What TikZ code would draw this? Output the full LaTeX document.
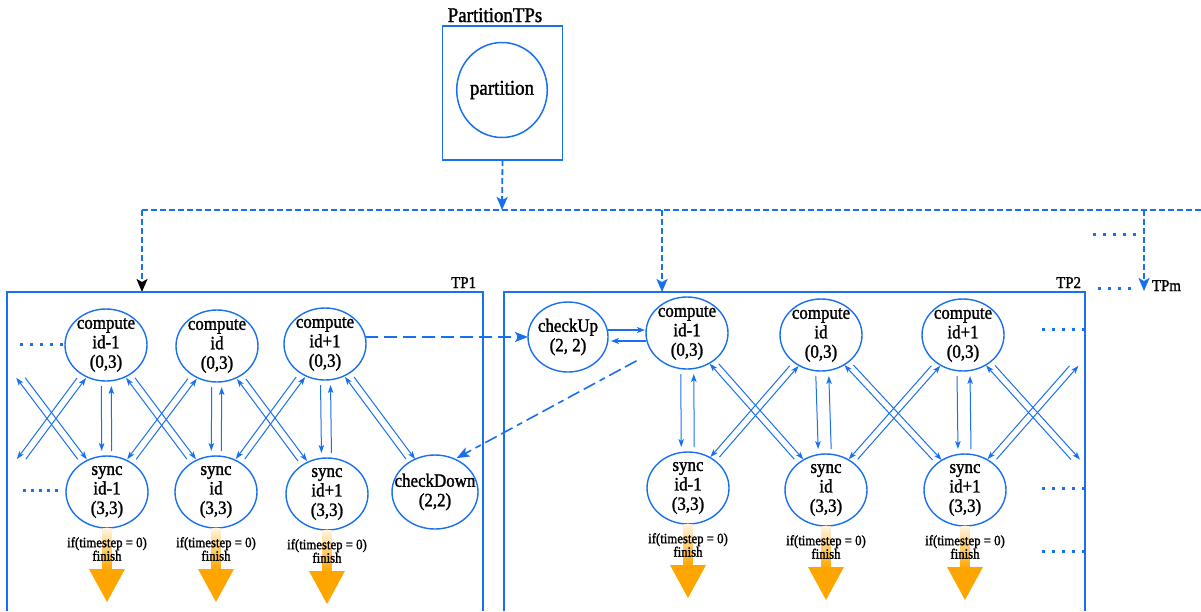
\documentclass[tikz,border=0pt]{standalone}
\usepackage{fontspec}
\setmainfont{Liberation Serif}[FakeStretch=0.9,FakeBold=1.5]
\usetikzlibrary{arrows.meta,calc,shapes.geometric}
\definecolor{tpblue}{RGB}{24,112,240}
\definecolor{finorange}{RGB}{255,165,0}

% an elliptic task node with a centred multi-line caption
\newcommand\tasknode[5][task]{\node[#1,label={[tasktext]center:{#5}}] (#2) at (#3,#4) {};}
% a pair of opposite links between two tasks, each shifted sideways
\newcommand\xpair[4]{%
  \draw[link] ([xshift=#3]#1.center) -- ([xshift=#3]#2.center);
  \draw[link] ([xshift=#4]#2.center) -- ([xshift=#4]#1.center);}
% the orange termination arrow under a sync task
\newcommand\finishmark[1]{%
  \shade[top color=finorange!12, bottom color=finorange]
    ([xshift=-4.5pt]#1.south) rectangle ([xshift=4.5pt,yshift=-42pt]#1.south);
  \fill[finorange] ([xshift=-18pt,yshift=-41pt]#1.south) -- ([xshift=18pt,yshift=-41pt]#1.south)
    -- ([yshift=-74pt]#1.south) -- cycle;
  \node[fintext] at ([yshift=-21pt]#1.south) {if(timestep = 0)\\finish};}

\begin{document}
\begin{tikzpicture}[x=1pt,y=-1pt,
  every node/.style={inner sep=0pt,outer sep=0pt},
  task/.style={ellipse,draw=tpblue,line width=1.4pt,minimum width=82pt,minimum height=72pt},
  checkbig/.style={task,minimum width=86pt,minimum height=74pt},
  checksmall/.style={task,minimum width=80pt,minimum height=70pt},
  tasktext/.style={align=center,font=\fontsize{18.8}{19.5}\selectfont},
  fintext/.style={align=center,font=\fontsize{14.2}{13.5}\selectfont},
  tplabel/.style={font=\fontsize{16.5}{16}\selectfont},
  link/.style={draw=tpblue,line width=1pt,-{Stealth[length=8pt,width=5.5pt,inset=2pt]},
    shorten <=41pt,shorten >=41pt},
  sidelink/.style={draw=tpblue,line width=1.2pt,-{Stealth[length=8pt,width=6pt,inset=2pt]}},
  xlink/.style={draw=tpblue,line width=1.8pt,dash pattern=on 13pt off 6pt,
    -{Stealth[length=13pt,width=10pt,inset=3pt]}},
  feed/.style={draw=tpblue,line width=1.8pt,dash pattern=on 6pt off 3pt},
  feedtip/.style={-{Stealth[length=13pt,width=11pt,inset=3pt]}},
  dotrow/.style={draw=tpblue,line width=3pt,dash pattern=on 3pt off 7pt},
  dotrowtight/.style={draw=tpblue,line width=3pt,dash pattern=on 3pt off 5pt},
  frame/.style={draw=tpblue,line width=1.5pt}
]
\useasboundingbox (0,0) rectangle (1201,611);

% ---------- partitioning stage ----------
\node[frame,minimum width=120pt,minimum height=134pt] (ptp) at (502.5,93) {};
\node[anchor=base,font=\fontsize{21}{21}\selectfont] (ptpl) at (495,22) {PartitionTPs};
\node[ellipse,draw=tpblue,line width=1.5pt,minimum width=90pt,minimum height=95pt,
      font=\fontsize{21}{21}\selectfont] (part) at (502,90) {partition};

\coordinate (j0) at (502,210);
\coordinate (hl) at (142,210);
\coordinate (hr) at (1201,210);
\coordinate (d2) at (662,210);
\coordinate (d3) at (1144,210);
\coordinate (tp1nw) at (7,292);
\coordinate (tp1ne) at (483,292);
\coordinate (tp2nw) at (504,292);
\coordinate (tp2ne) at (1085,292);
\coordinate (tpm) at (1144,291);

\draw[feed,feedtip] (ptp.south) -- (j0);
\draw[feed] (hl) -- (hr);
\draw[feed,-{Stealth[length=13pt,width=11pt,inset=3pt,black]}] (hl) -- (hl |- tp1nw);
\draw[feed,feedtip] (d2) -- (d2 |- tp2nw);
\draw[feed,feedtip] (d3) -- (tpm);

% ---------- partition frames ----------
\draw[frame] (7,611) -- (tp1nw) -- (tp1ne) -- (483,611);
\draw[frame] (504,611) -- (tp2nw) -- (tp2ne) -- (1085,611);
\node[tplabel,anchor=base east] (l1) at (476,288) {TP1};
\node[tplabel,anchor=base east] (l2) at (1081,288) {TP2};
\node[tplabel,anchor=base west] (lm) at (1152,291) {TPm};

\draw[dotrow] (1093,234) -- (1136,234);
\draw[dotrow] (1098,288) -- (1138,288);

% ---------- TP1 ----------
\tasknode{cA1}{106}{345}{compute\\id-1\\(0,3)}
\tasknode{cA2}{217}{346}{compute\\id\\(0,3)}
\tasknode{cA3}{325}{344}{compute\\id+1\\(0,3)}
\tasknode{sA1}{107}{492}{sync\\id-1\\(3,3)}
\tasknode{sA2}{216}{492}{sync\\id\\(3,3)}
\tasknode{sA3}{327}{494}{sync\\id+1\\(3,3)}
\tasknode[checkbig]{chkDown}{435}{492}{checkDown\\(2,2)}
\coordinate (cA0) at (-4,345);
\coordinate (sA0) at (-3,492);

\draw[dotrow] (20,344) -- (63,344);
\draw[dotrowtight] (23,490) -- (58,490);

\xpair{cA1}{sA1}{-5pt}{5pt}
\xpair{cA2}{sA2}{-5pt}{5pt}
\xpair{cA3}{sA3}{-5pt}{5pt}
\xpair{cA0}{sA1}{4.5pt}{-4.5pt}
\xpair{cA1}{sA2}{4.5pt}{-4.5pt}
\xpair{cA2}{sA3}{4.5pt}{-4.5pt}
\xpair{cA3}{chkDown}{4.5pt}{-4.5pt}
\xpair{cA1}{sA0}{-4.5pt}{4.5pt}
\xpair{cA2}{sA1}{-4.5pt}{4.5pt}
\xpair{cA3}{sA2}{-4.5pt}{4.5pt}

\finishmark{sA1}
\finishmark{sA2}
\finishmark{sA3}

% ---------- TP2 ----------
\tasknode[checksmall]{chkUp}{568}{337}{checkUp\\(2, 2)}
\tasknode{cB1}{687}{333}{compute\\id-1\\(0,3)}
\tasknode{cB2}{821}{335}{compute\\id\\(0,3)}
\tasknode{cB3}{963}{335}{compute\\id+1\\(0,3)}
\tasknode{sB1}{688}{488}{sync\\id-1\\(3,3)}
\tasknode{sB2}{826}{490}{sync\\id\\(3,3)}
\tasknode{sB3}{965}{490}{sync\\id+1\\(3,3)}
\coordinate (cB4) at (1101,335);
\coordinate (sB4) at (1103,490);

\draw[dotrow] (1042,329) -- (1085,329);
\draw[dotrow] (1042,488) -- (1085,488);
\draw[dotrow] (1042,551) -- (1085,551);

\xpair{cB1}{sB1}{-6.5pt}{6.5pt}
\xpair{cB2}{sB2}{-6.5pt}{6.5pt}
\xpair{cB3}{sB3}{-6.5pt}{6.5pt}
\xpair{cB1}{sB2}{4.5pt}{-4.5pt}
\xpair{cB2}{sB3}{4.5pt}{-4.5pt}
\xpair{cB3}{sB4}{4.5pt}{-4.5pt}
\xpair{cB2}{sB1}{-4.5pt}{4.5pt}
\xpair{cB3}{sB2}{-4.5pt}{4.5pt}
\xpair{cB4}{sB3}{-4.5pt}{4.5pt}

\draw[sidelink,shorten >=1pt] ([yshift=7pt]chkUp.east) -- ([yshift=7pt]chkUp.east -| cB1.west);
\draw[sidelink,shorten >=3pt] ([yshift=-8pt]cB1.west) -- ([yshift=-8pt]cB1.west -| chkUp.east);

\finishmark{sB1}
\finishmark{sB2}
\finishmark{sB3}

% ---------- exchanges between partitions ----------
\draw[xlink] (cA3.10) -- (chkUp.west);
\draw[xlink,line width=1.6pt,dash pattern=on 13pt off 5pt on 13pt off 5pt on 6pt off 5pt,
      shorten <=18pt,shorten >=2pt] (cB1.209) -- (chkDown.59);
\end{tikzpicture}
\end{document}
